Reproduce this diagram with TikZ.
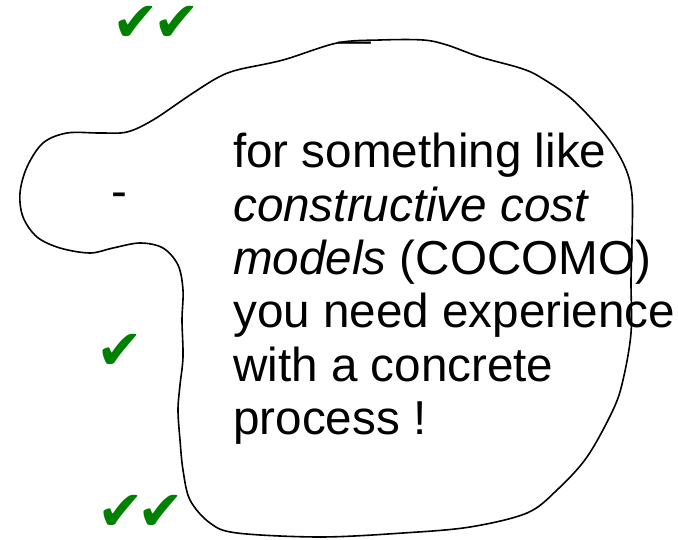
\documentclass[tikz,border=0pt]{standalone}
\usepackage{fontspec}
\setmainfont{Liberation Sans}
\newfontfamily\symfont{DejaVu Sans}
\definecolor{chkgreen}{RGB}{0,128,0}
\begin{document}
\begin{tikzpicture}[x=1bp,y=-1bp,
  txt/.style={anchor=base west,inner sep=0,font=\fontsize{47.8}{53}\selectfont},
  chkmark/.style={text=chkgreen,inner sep=0,font=\symfont\fontsize{56}{56}\selectfont},
  blob/.style={draw=black,line width=1.6bp}]
\useasboundingbox (0,0) rectangle (678,540);
\draw[blob] plot[smooth cycle,tension=0.55] coordinates {
 (380,40) (423,40) (447,45) (480,57) (520,68) (540,77) (573,100) (607,137)
 (625,167) (632,195) (632,240) (631,280) (631,333) (623,380) (613,410)
 (587,457) (557,490) (527,513) (470,527) (403,533) (320,537) (237,533)
 (210,523) (190,500) (183,470) (180,440) (178,410) (180,385) (183,357)
 (182,320) (183,290) (178,265) (163,248) (140,243) (113,248) (90,253)
 (60,248) (37,237) (23,217) (20,193) (27,167) (43,143) (67,133) (100,133)
 (127,132) (153,120) (190,95) (217,78) (237,70) (283,60) (337,43)};
\node[txt] (l1) at (233,168) {for something like};
\node[txt] (l2) at (233,221.3) {\itshape constructive cost};
\node[txt] (l3) at (233,274.6) {\textit{models} (COCOMO)};
\node[txt] (l4) at (233,327.9) {you need experience};
\node[txt] (l5) at (233,381.2) {with a concrete};
\node[txt] (l6) at (233,434.5) {process !};
\node[txt] (dashleft) at (111,208) {-};
\node[anchor=base west,inner sep=0,font=\fontsize{33}{33}\selectfont] (dashtop) at (338,52) {—};
\node[chkmark] (ck1a) at (136,24) {✔};
\node[chkmark] (ck1b) at (177,24) {✔};
\node[chkmark] (ck2) at (120,352) {✔};
\node[chkmark] (ck3a) at (121,513) {✔};
\node[chkmark] (ck3b) at (161,513) {✔};
\end{tikzpicture}
\end{document}
